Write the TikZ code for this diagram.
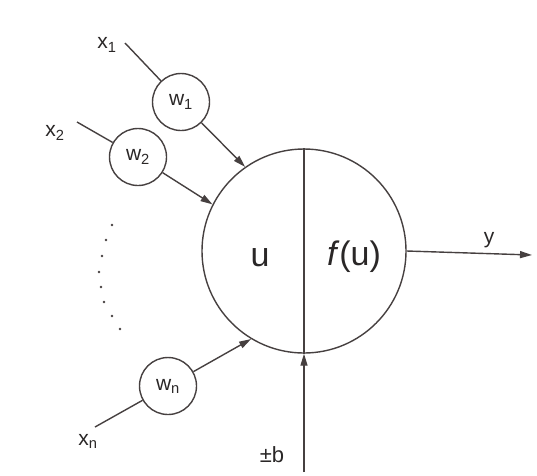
\documentclass[tikz,border=0pt]{standalone}
\usepackage{fontspec}
\setmainfont{Liberation Sans}
\usetikzlibrary{arrows.meta}
\definecolor{ink}{RGB}{70,64,64}
\tikzset{
  ln/.style={draw=ink, line width=1.4pt},
  arr/.style={ln, -{Triangle[length=12pt,width=7pt]}},
  wbox/.style={circle, draw=ink, line width=1.4pt, minimum size=57pt, inner sep=0pt, font=\fontsize{21}{21}\selectfont, text=ink!60!black},
  lbl/.style={inner sep=0pt, font=\fontsize{21}{21}\selectfont, text=ink!60!black},
  dotc/.style={fill=ink, circle, inner sep=0pt, minimum size=2.6pt}
}
\begin{document}
\begin{tikzpicture}[x=1pt,y=-1pt]
\useasboundingbox (0,0) rectangle (537,475);
% main neuron
\node[circle, draw=ink, line width=1.4pt, minimum size=204pt, inner sep=0pt] (main) at (304,251) {};
\node[inner sep=0pt, font=\fontsize{34}{34}\selectfont, text=ink!60!black] (u) at (260,258) {u};
\node[inner sep=0pt, font=\fontsize{34}{34}\selectfont, text=ink!60!black] (fu) at (354,257) {\textit{f}(u)};
% weights
\node[wbox] (w1) at (181,102) {w\textsubscript{1}};
\node[wbox] (w2) at (138,157) {w\textsubscript{2}};
\node[wbox] (wn) at (168,386) {w\textsubscript{n}};
% input labels
\node[lbl] (x1) at (107,45) {x\textsubscript{1}};
\node[lbl] (x2) at (55,133) {x\textsubscript{2}};
\node[lbl] (xn) at (88,441) {x\textsubscript{n}};
\coordinate (c1) at (125,43);
\coordinate (c2) at (77,122);
\coordinate (cn) at (95,427);
\draw[ln] (c1) -- (w1);
\draw[ln] (c2) -- (w2);
\draw[ln] (cn) -- (wn);
% weighted inputs to neuron
\draw[arr] (w1) -- (main.125);
\draw[arr] (w2) -- (main.153);
\draw[arr] (wn) -- (main.239);
% divider and bias
\draw[ln] (main.north) -- (main.south);
\coordinate (bb) at (304,472);
\draw[arr] (bb) -- (main.south);
\node[lbl, font=\fontsize{22}{22}\selectfont] (b) at (272,455) {±b};
% output
\coordinate (yout) at (532,255);
\draw[arr] (main.east) -- (yout);
\node[lbl, font=\fontsize{21}{21}\selectfont] (y) at (489,240) {y};
% dots
\foreach \p [count=\i] in {(112,225),(106,240),(102,256),(99,272),(101,287),(104,302),(112,316),(120,329)}
  \node[dotc] (d\i) at \p {};
\end{tikzpicture}
\end{document}
